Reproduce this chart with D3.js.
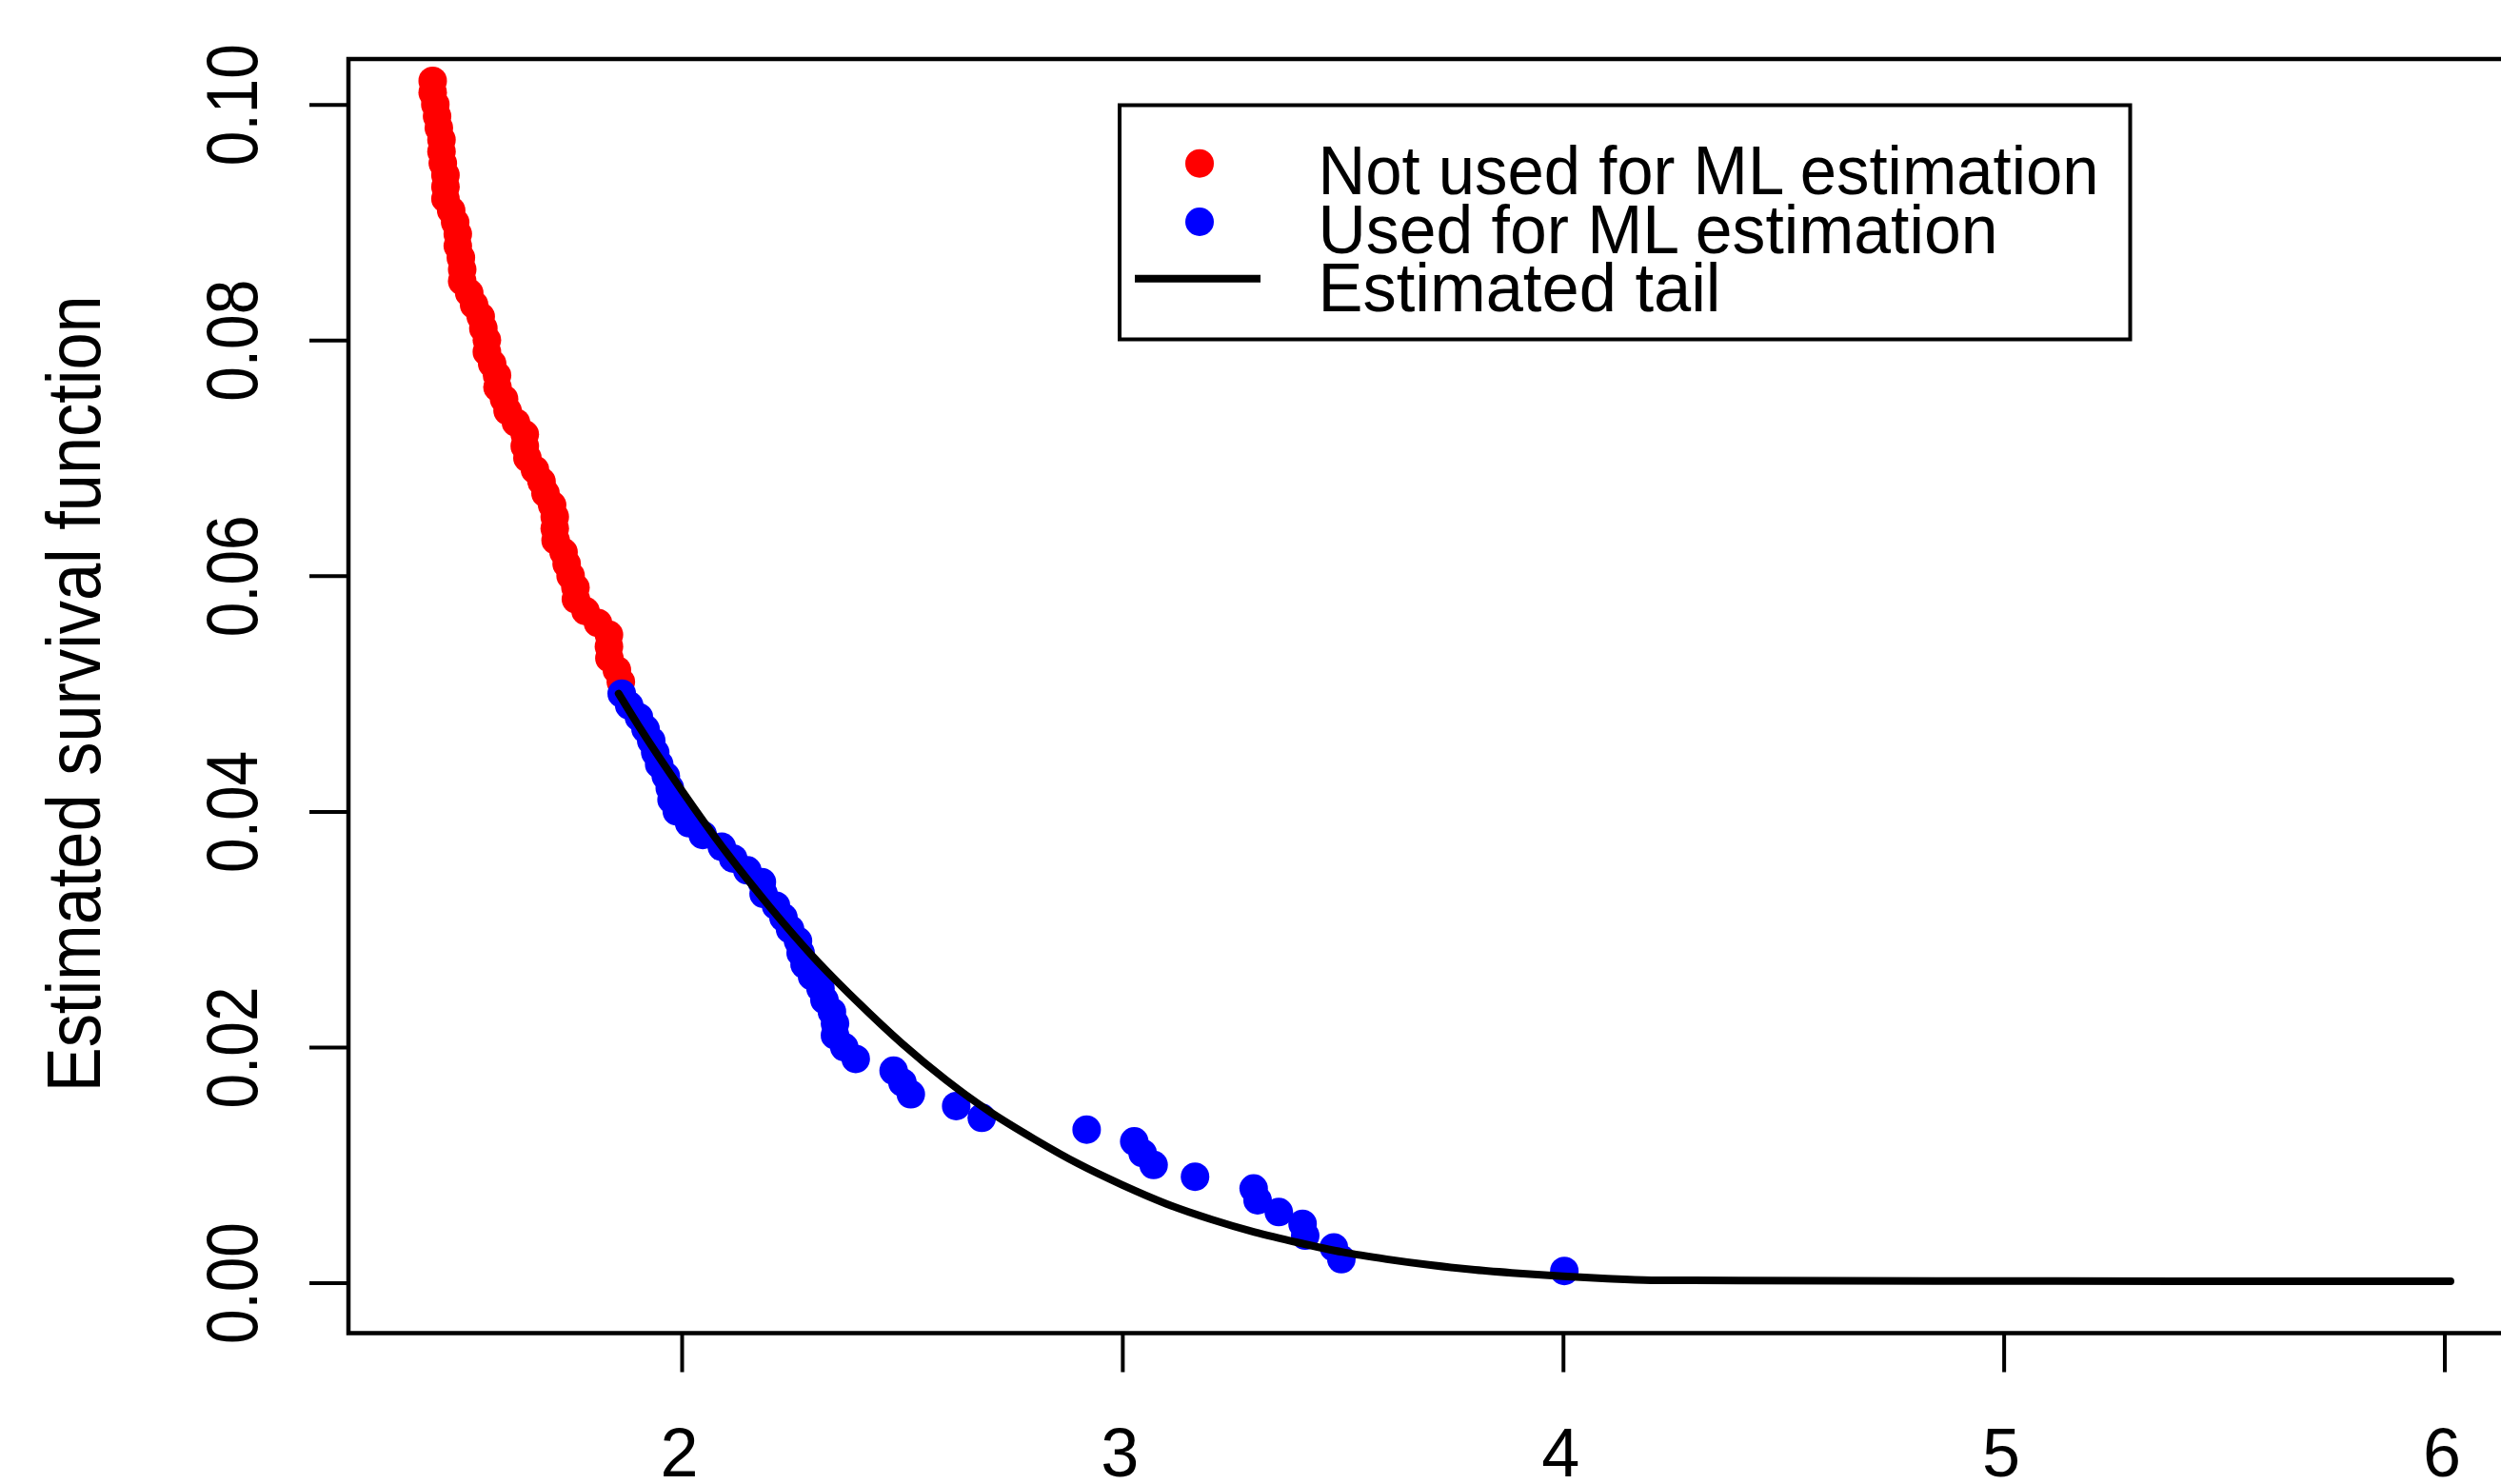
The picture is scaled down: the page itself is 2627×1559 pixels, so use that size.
<!DOCTYPE html>
<html><head><meta charset="utf-8">
<script src="https://cdn.jsdelivr.net/npm/d3@7"></script>
<style>html,body{margin:0;padding:0;background:#fff}svg{display:block}</style>
</head><body>
<script>
// ---- data ----
const redX = [1.435,1.435,1.441,1.445,1.449,1.455,1.455,1.458,1.464,1.464,1.464,1.477,1.486,1.492,1.492,1.499,1.502,1.502,1.518,1.529,1.544,1.550,1.558,1.558,1.570,1.581,1.582,1.597,1.605,1.624,1.644,1.644,1.650,1.667,1.682,1.691,1.706,1.712,1.712,1.714,1.732,1.739,1.748,1.759,1.760,1.782,1.810,1.835,1.835,1.836,1.853,1.862];
const redY = [0.102,0.101,0.100,0.099,0.098,0.097,0.096,0.095,0.094,0.093,0.092,0.091,0.090,0.089,0.088,0.087,0.086,0.085,0.084,0.083,0.082,0.081,0.080,0.079,0.078,0.077,0.076,0.075,0.074,0.073,0.072,0.071,0.070,0.069,0.068,0.067,0.066,0.065,0.064,0.063,0.062,0.061,0.060,0.059,0.058,0.057,0.056,0.055,0.054,0.053,0.052,0.051];
const blueX = [1.864,1.881,1.903,1.918,1.931,1.940,1.949,1.964,1.973,1.977,1.989,2.017,2.048,2.091,2.117,2.149,2.182,2.186,2.214,2.231,2.246,2.264,2.270,2.279,2.296,2.315,2.324,2.341,2.348,2.348,2.369,2.395,2.481,2.501,2.520,2.623,2.681,2.919,3.027,3.046,3.071,3.165,3.298,3.307,3.355,3.409,3.415,3.480,3.497,4.003];
const blueY = [0.050,0.049,0.048,0.047,0.046,0.045,0.044,0.043,0.042,0.041,0.040,0.039,0.038,0.037,0.036,0.035,0.034,0.033,0.032,0.031,0.030,0.029,0.028,0.027,0.026,0.025,0.024,0.023,0.022,0.021,0.020,0.019,0.018,0.017,0.016,0.015,0.014,0.013,0.012,0.011,0.010,0.009,0.008,0.007,0.006,0.005,0.004,0.003,0.002,0.001];
const lineX = [1.857,1.9,2.0,2.1,2.2,2.3,2.4,2.5,2.6,2.7,2.8,2.9,3.0,3.1,3.2,3.3,3.4,3.5,3.6,3.7,3.8,3.9,4.0,4.1,4.2,4.4,5.0,6.014];
const lineY = [0.0500,0.0474,0.0418,0.0366,0.0319,0.0276,0.0238,0.0203,0.0172,0.0145,0.0122,0.0101,0.0083,0.0067,0.0054,0.0043,0.0034,0.0026,0.0020,0.0015,0.0011,0.0008,0.00055,0.00035,0.00022,0.00018,0.00015,0.00012];
const xTicks = [2,3,4,5,6];
const xTickLabels = ["2","3","4","5","6"];
const yTicks = [0,0.02,0.04,0.06,0.08,0.10];
const yTickLabels = ["0.00","0.02","0.04","0.06","0.08","0.10"];
const yTitle = "Estimated survival function";
const legendLabels = ["Not used for ML estimation","Used for ML estimation","Estimated tail"];
const legendColors = ["#ff0000","#0000ff","#000000"];
const legendKinds = ["point","point","line"];

// ---- layout ----
const W = 2627, H = 1559;
const plot = {left:366, top:62, right:2645, bottom:1400.5};
const FONT = "'Liberation Sans', Arial, Helvetica, sans-serif";

const x = d3.scaleLinear().domain([2,6]).range([716,2567.5]);
const y = d3.scaleLinear().domain([0,0.1]).range([1347.6,109.7]);

const svg = d3.select("body").append("svg").attr("width",W).attr("height",H)
  .attr("font-family",FONT);
svg.append("rect").attr("width",W).attr("height",H).attr("fill","#fff");

// points
svg.append("g").selectAll("circle").data(d3.zip(redX,redY)).join("circle")
  .attr("cx",d=>x(d[0])).attr("cy",d=>y(d[1])).attr("r",15).attr("fill",legendColors[0]);
svg.append("g").selectAll("circle").data(d3.zip(blueX,blueY)).join("circle")
  .attr("cx",d=>x(d[0])).attr("cy",d=>y(d[1])).attr("r",15).attr("fill",legendColors[1]);

// fitted tail
svg.append("path").datum(d3.zip(lineX,lineY))
  .attr("d",d3.line().x(d=>x(d[0])).y(d=>y(d[1])).curve(d3.curveMonotoneX))
  .attr("fill","none").attr("stroke","#000").attr("stroke-width",8)
  .attr("stroke-linecap","round").attr("stroke-linejoin","round");

// frame
svg.append("rect").attr("x",plot.left).attr("y",plot.top)
  .attr("width",plot.right-plot.left).attr("height",plot.bottom-plot.top)
  .attr("fill","none").attr("stroke","#000").attr("stroke-width",4.5);

// x axis
const gx = svg.append("g").attr("transform",`translate(0,${plot.bottom})`)
  .call(d3.axisBottom(x).tickValues(xTicks).tickFormat((d,i)=>xTickLabels[i]).tickSize(41).tickSizeOuter(0));
gx.select(".domain").remove();
gx.selectAll(".tick line").attr("stroke","#000").attr("stroke-width",4);
gx.selectAll(".tick text").attr("y",150).attr("dy",null).attr("dx",-3)
  .attr("font-size",72).attr("font-family",FONT).attr("fill","#000");

// y axis
const gy = svg.append("g").attr("transform",`translate(${plot.left},0)`)
  .call(d3.axisLeft(y).tickValues(yTicks).tickFormat((d,i)=>yTickLabels[i]).tickSize(41).tickSizeOuter(0));
gy.select(".domain").remove();
gy.selectAll(".tick line").attr("stroke","#000").attr("stroke-width",4);
gy.selectAll(".tick text").attr("x",0).attr("y",0).attr("dy",null)
  .attr("transform","translate(-96,0) rotate(-90)")
  .attr("text-anchor","middle").attr("font-size",76).attr("font-family",FONT).attr("fill","#000")
  .attr("textLength",128).attr("lengthAdjust","spacingAndGlyphs");

// y title
svg.append("text").attr("transform",`translate(104.5,${(plot.top+plot.bottom)/2 - 2.5}) rotate(-90)`)
  .attr("text-anchor","middle").attr("font-size",80).attr("fill","#000")
  .attr("textLength",837).attr("lengthAdjust","spacingAndGlyphs").text(yTitle);

// legend
const lg = svg.append("g");
lg.append("rect").attr("x",1176).attr("y",110.5).attr("width",1061.5).attr("height",246)
  .attr("fill","#fff").attr("stroke","#000").attr("stroke-width",4);
const rowY = [171.7, 233, 292.7];
const baseY = [204.3, 265.5, 327.3];
const textLens = [820, 714, 423];
legendLabels.forEach((lab,i)=>{
  if (legendKinds[i]==="point") {
    lg.append("circle").attr("cx",1260).attr("cy",rowY[i]).attr("r",15).attr("fill",legendColors[i]);
  } else {
    lg.append("line").attr("x1",1192).attr("x2",1324).attr("y1",rowY[i]).attr("y2",rowY[i])
      .attr("stroke",legendColors[i]).attr("stroke-width",8);
  }
  lg.append("text").attr("x",1384.5).attr("y",baseY[i]).attr("font-size",72).attr("fill","#000")
    .attr("textLength",textLens[i]).attr("lengthAdjust","spacingAndGlyphs").text(lab);
});
</script>
</body></html>
